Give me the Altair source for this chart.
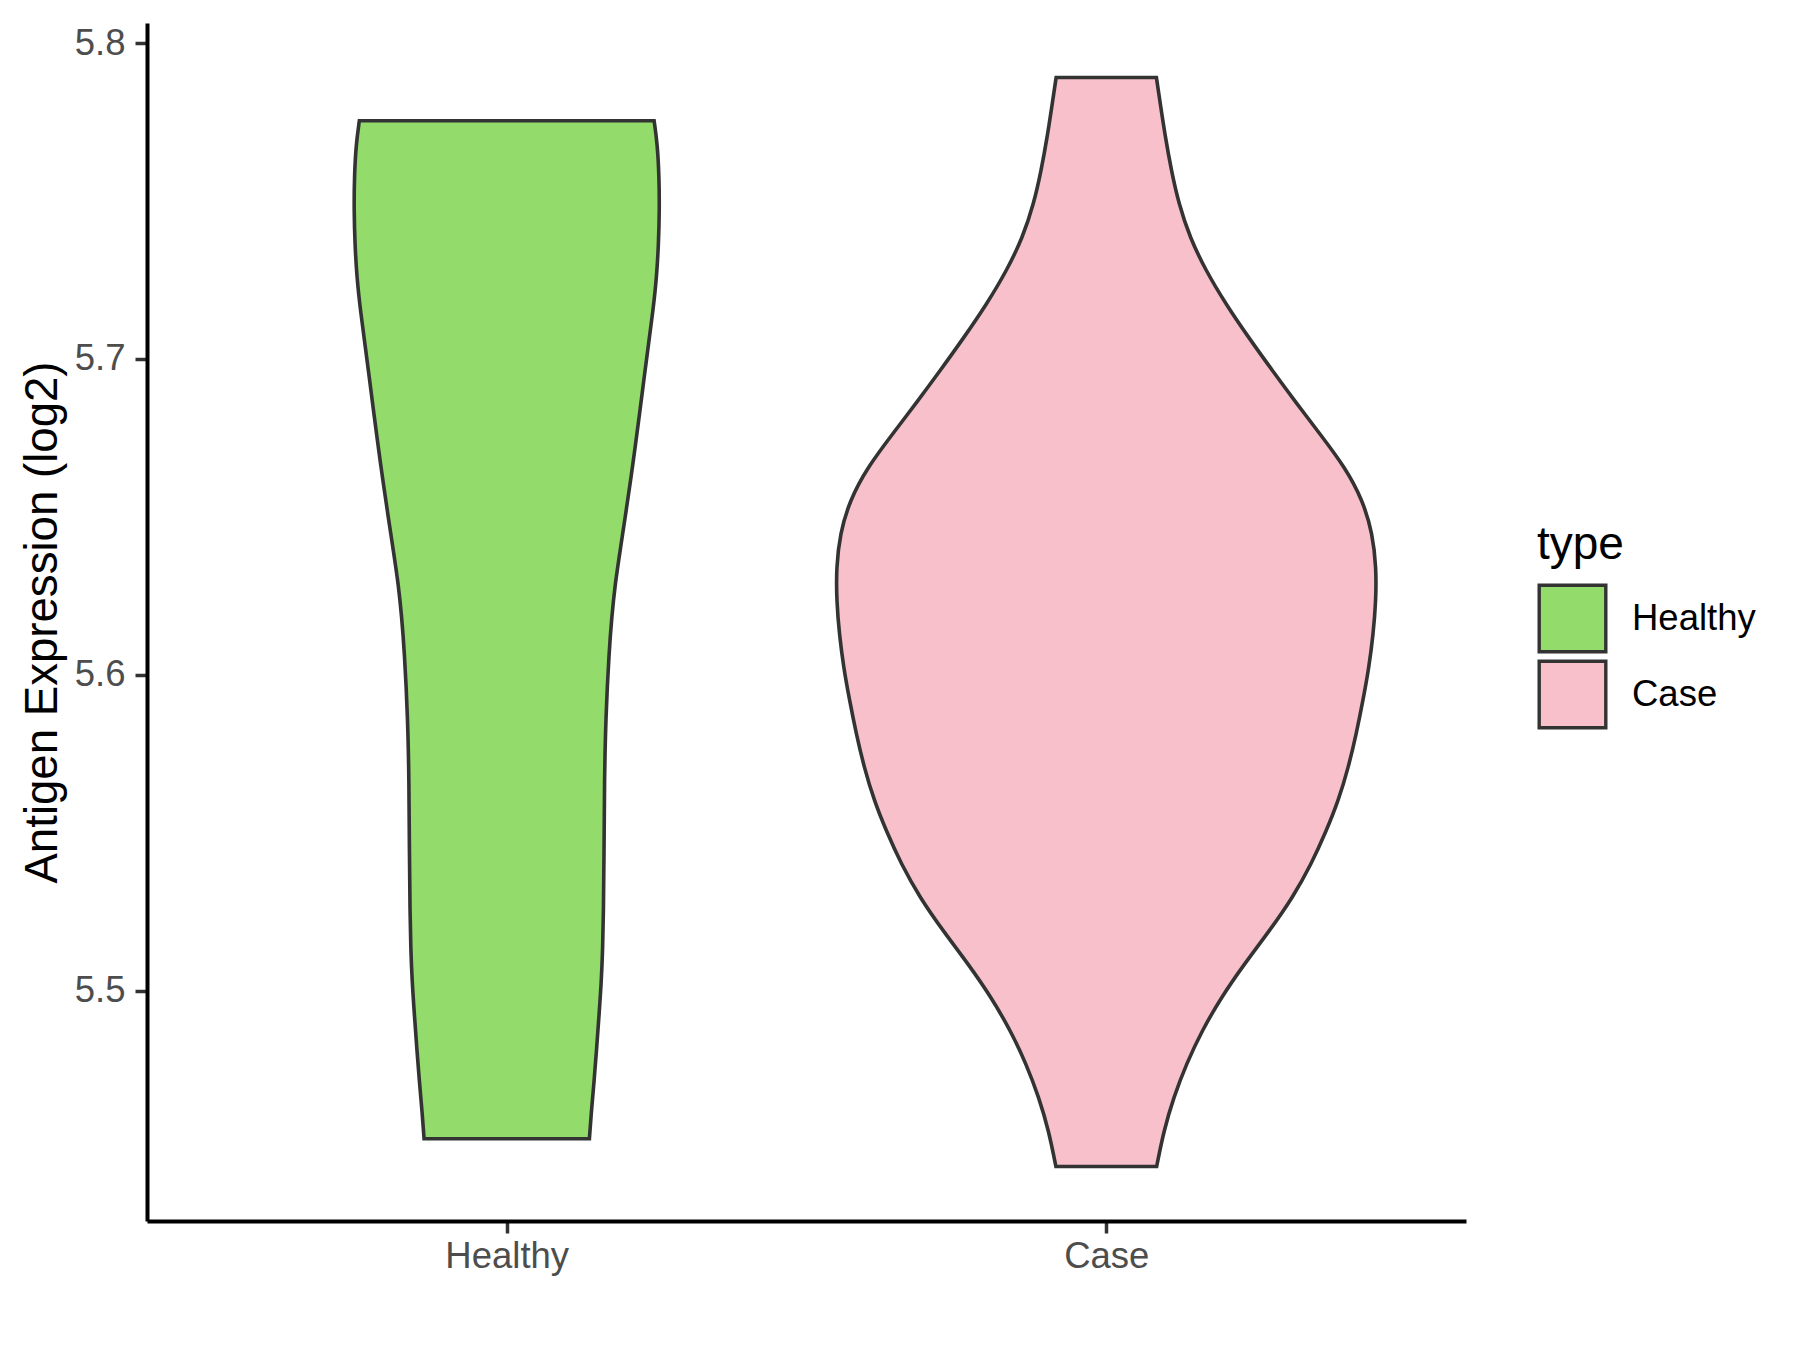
import altair as alt
import pandas as pd

categories = ["Healthy", "Case"]
positions = [1, 2]
colors = ["#93DB6A", "#F7C0CB"]

# violin outline: expression value and half-width (x units)
healthy_y = [5.4531, 5.4609, 5.4714, 5.4820, 5.4926, 5.5031, 5.5137, 5.5242, 5.5443,
             5.5654, 5.5865, 5.6076, 5.6181, 5.6287, 5.6393, 5.6498, 5.6604, 5.6731,
             5.6836, 5.6941, 5.7047, 5.7153, 5.7258, 5.7364, 5.7469, 5.7575, 5.7680,
             5.7754]
healthy_hw = [0.1379, 0.1408, 0.1458, 0.1501, 0.1541, 0.1579, 0.1601, 0.1613, 0.1624,
              0.1629, 0.1651, 0.1708, 0.1751, 0.1808, 0.1891, 0.1975, 0.2058, 0.2150,
              0.2222, 0.2292, 0.2365, 0.2440, 0.2500, 0.2532, 0.2547, 0.2542, 0.2513,
              0.2458]

case_y = [5.4443, 5.4556, 5.4662, 5.4767, 5.4873, 5.4978, 5.5084, 5.5189, 5.5295,
          5.5401, 5.5506, 5.5601, 5.5707, 5.5812, 5.5918, 5.6023, 5.6129, 5.6234,
          5.6340, 5.6446, 5.6551, 5.6656, 5.6762, 5.6860, 5.6963, 5.7068, 5.7174,
          5.7280, 5.7385, 5.7491, 5.7596, 5.7701, 5.7807, 5.7891]
case_hw = [0.0840, 0.0959, 0.1124, 0.1334, 0.1596, 0.1916, 0.2301, 0.2721, 0.3111,
           0.3421, 0.3671, 0.3871, 0.4039, 0.4169, 0.4281, 0.4381, 0.4453, 0.4498,
           0.4503, 0.4441, 0.4281, 0.3986, 0.3566, 0.3171, 0.2771, 0.2373, 0.1993,
           0.1659, 0.1393, 0.1209, 0.1086, 0.0986, 0.0902, 0.0836]

y_ticks = [5.5, 5.6, 5.7, 5.8]

rows = []
for cat, pos, ys, hws in [("Healthy", 1, healthy_y, healthy_hw), ("Case", 2, case_y, case_hw)]:
    for v, hw in zip(ys, hws):
        rows.append({"type": cat, "value": v, "lo": pos - hw, "hi": pos + hw})
df = pd.DataFrame(rows)

all_y = healthy_y + case_y
lo_y, hi_y = min(all_y), max(all_y)
pad = (hi_y - lo_y) * 0.05
y_domain = [lo_y - pad, hi_y + pad]

FONT = "Liberation Sans"

chart = alt.Chart(df).mark_area(
    orient="horizontal", interpolate="basis",
    stroke="#333333", strokeWidth=3.6, fillOpacity=1, strokeJoin="miter"
).encode(
    y=alt.Y("value:Q", scale=alt.Scale(domain=y_domain, nice=False, zero=False),
            axis=alt.Axis(values=y_ticks, format=".1f", title="Antigen Expression (log2)",
                          labelPadding=10, titlePadding=8)),
    x=alt.X("lo:Q", scale=alt.Scale(domain=[0.4, 2.6], nice=False, zero=False),
            axis=alt.Axis(values=positions,
                          labelExpr="datum.value == 1 ? 'Healthy' : 'Case'",
                          title=None, labelPadding=5)),
    x2="hi:Q",
    fill=alt.Fill("type:N", scale=alt.Scale(domain=categories, range=colors),
                  legend=alt.Legend(
                      title="type", orient="none", legendX=1390, legendY=500,
                      symbolType="square", symbolSize=4436,
                      symbolStrokeColor="#333333", symbolStrokeWidth=3.4,
                      symbolOpacity=1,
                      titleFontSize=46, titleFont=FONT, titleFontWeight="normal",
                      titleColor="black", titlePadding=14,
                      labelFontSize=36.5, labelFont=FONT, labelColor="black",
                      labelOffset=24, rowPadding=-12)),
).properties(
    width=1319, height=1198,
    autosize=alt.AutoSizeParams(type="none"),
    padding={"left": 139, "top": 15, "right": 326, "bottom": 121},
).configure_view(stroke=None).configure_axis(
    grid=False, domainColor="black", domainWidth=4,
    tickColor="#333333", tickWidth=3.5, tickSize=12,
    labelFont=FONT, labelFontSize=36.5, labelColor="#4D4D4D",
    titleFont=FONT, titleFontSize=45.6, titleFontWeight="normal", titleColor="black",
)

chart.save("out.html", embed_options={"renderer": "svg", "actions": False})
